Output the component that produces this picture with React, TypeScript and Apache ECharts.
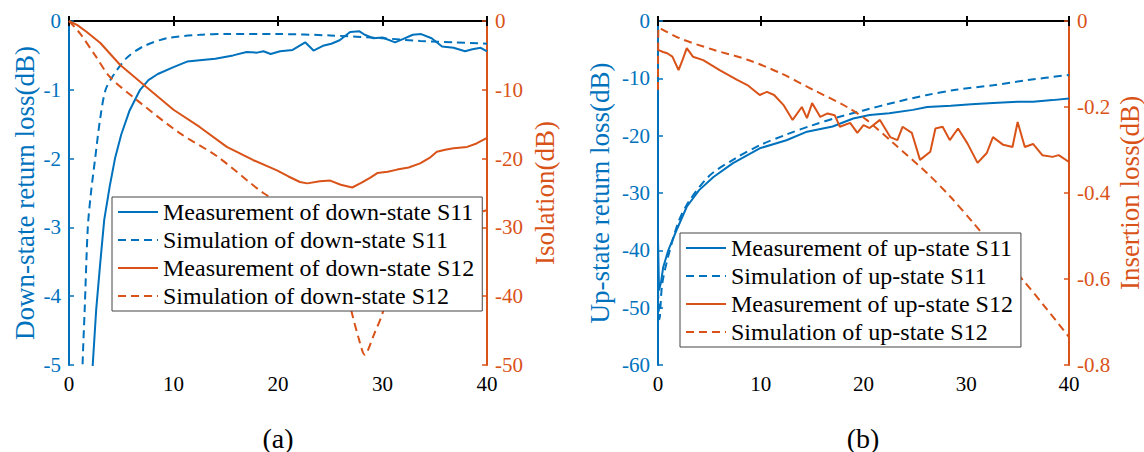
import React, { useEffect, useRef } from "react";
import * as echarts from "echarts";

const BLUE = "#0072BD";
const ORANGE = "#D95319";
const FONT = "'Liberation Serif', 'Times New Roman', serif";

const xTicks = [0, 10, 20, 30, 40];

// Panel (a): down-state
const aMeasS11F = [2.0, 2.27, 2.6, 3.0, 3.37, 3.9, 4.4, 5.0, 5.8, 6.8, 7.6, 8.5, 10, 11.3, 12.5, 14, 15.7, 17, 18, 18.6, 19.3, 20.2, 21.4, 22.6, 23.4, 24.3, 25.1, 25.9, 26.9, 27.8, 28.3, 29.1, 30, 31.2, 32, 32.9, 33.7, 34.7, 35.7, 36.8, 37.9, 38.6, 39.4, 40];
const aMeasS11V = [-6.2, -5, -4.2, -3.5, -2.89, -2.4, -2.0, -1.65, -1.3, -1.0, -0.86, -0.77, -0.67, -0.59, -0.57, -0.55, -0.5, -0.45, -0.46, -0.44, -0.48, -0.44, -0.42, -0.31, -0.43, -0.36, -0.33, -0.28, -0.16, -0.15, -0.2, -0.25, -0.24, -0.31, -0.26, -0.2, -0.19, -0.25, -0.37, -0.39, -0.44, -0.41, -0.39, -0.44];
const aSimS11F = [1.1, 1.3, 1.5, 1.8, 2.1, 2.5, 3.0, 3.5, 4.2, 5.5, 7.1, 9.4, 12.5, 15, 20, 25, 30, 33.6, 37, 40];
const aSimS11V = [-6.5, -5, -4.2, -3, -2.5, -2, -1.4, -1.0, -0.8, -0.54, -0.37, -0.25, -0.2, -0.19, -0.19, -0.21, -0.25, -0.29, -0.31, -0.33];
const aMeasS12F = [0, 0.8, 1.7, 3, 4.9, 7.4, 10, 12.5, 15.1, 17.6, 19.9, 21, 22.1, 22.8, 24, 25, 26, 27.1, 28, 28.8, 29.5, 30.5, 31.4, 32.5, 33.6, 34.5, 35.2, 36, 36.8, 38.1, 39, 40];
const aMeasS12V = [0, -0.6, -1.6, -3.2, -6.4, -9.6, -12.9, -15.4, -18.3, -20.2, -21.7, -22.6, -23.4, -23.6, -23.3, -23.2, -23.8, -24.2, -23.5, -22.8, -22.1, -21.9, -21.6, -21.3, -20.7, -19.9, -19, -18.7, -18.5, -18.3, -17.8, -17];
const aSimS12F = [0, 1.05, 2.5, 3.9, 6.5, 10.6, 14.2, 18.6, 21, 23, 25, 26.3, 27, 27.7, 28.3, 29.2, 30, 31, 32.5, 35, 37.5, 40];
const aSimS12V = [0, -1.8, -5, -8.1, -11.5, -16.3, -19.7, -25, -27, -29.5, -33, -37.5, -42, -46, -48.5, -45.5, -42.5, -37, -33, -30, -28.5, -27.5];

// Panel (b): up-state
const bMeasS11F = [0, 0.1, 0.3, 0.5, 1, 1.8, 2.8, 4, 5.4, 7.3, 9.9, 12.5, 14.5, 17, 19, 20.6, 22.5, 24.8, 26.2, 28.5, 30.5, 32.6, 35, 36.5, 38.4, 40];
const bMeasS11V = [-38, -47, -45.5, -43, -40, -36.5, -32.4, -29.5, -27.2, -24.8, -22.2, -20.8, -19.3, -18.4, -17, -16.4, -16.1, -15.5, -15, -14.8, -14.5, -14.3, -14.1, -14.1, -13.8, -13.5];
const bSimS11F = [0, 0.15, 0.4, 1, 2, 3, 5, 7.5, 10, 12.5, 15, 17.5, 20, 23, 26.2, 29, 32.6, 36, 40];
const bSimS11V = [-47, -52, -46, -41, -35, -31.5, -27, -24, -21.6, -19.8, -18.2, -16.8, -15.6, -14.2, -12.9, -12, -11.2, -10.3, -9.4];
const bMeasS12F = [0, 0.5, 0.9, 1.4, 2.0, 2.4, 2.8, 3.4, 4.4, 6, 7.7, 8.7, 9.9, 10.6, 11.3, 12.2, 13.1, 14, 14.5, 15, 15.8, 16.5, 17.2, 17.7, 18.7, 19.4, 20, 20.6, 21.6, 22.6, 23.3, 23.8, 24.7, 25.5, 26.5, 27, 27.7, 28.4, 29.2, 30.1, 31.1, 32, 32.6, 33.6, 34.5, 35, 35.7, 36.5, 37.4, 38.4, 39, 40];
const bMeasS12V = [-0.067, -0.072, -0.075, -0.083, -0.114, -0.09, -0.063, -0.083, -0.091, -0.114, -0.137, -0.149, -0.172, -0.165, -0.172, -0.195, -0.23, -0.2, -0.226, -0.191, -0.223, -0.215, -0.219, -0.246, -0.237, -0.26, -0.242, -0.249, -0.23, -0.27, -0.277, -0.246, -0.26, -0.323, -0.304, -0.25, -0.246, -0.277, -0.25, -0.284, -0.33, -0.307, -0.27, -0.288, -0.293, -0.235, -0.293, -0.286, -0.312, -0.316, -0.312, -0.328];
const bSimS12F = [0, 0.05, 2.1, 5.4, 8.7, 11.9, 15.1, 18.4, 20.3, 22.9, 26.2, 28.5, 30.7, 33, 35.5, 37.5, 40];
const bSimS12V = [-0.16, -0.015, -0.04, -0.067, -0.09, -0.121, -0.16, -0.2, -0.23, -0.284, -0.354, -0.41, -0.47, -0.535, -0.602, -0.66, -0.735];

const aNames = [
  "Measurement of down-state S11",
  "Simulation of down-state S11",
  "Measurement of down-state S12",
  "Simulation of down-state S12",
];
const bNames = [
  "Measurement of up-state S11",
  "Simulation of up-state S11",
  "Measurement of up-state S12",
  "Simulation of up-state S12",
];

const zip = (f: number[], v: number[]) => f.map((x, i) => [x, v[i]]);

function xAxes(gridIndex: number) {
  return [
    {
      type: "value", gridIndex, position: "bottom", min: xTicks[0], max: xTicks[xTicks.length - 1], interval: 10,
      axisLine: { lineStyle: { color: "#000", width: 2 } },
      axisTick: { inside: true, length: 5, lineStyle: { color: "#000", width: 2 } },
      axisLabel: { color: "#000", fontFamily: FONT, fontSize: 21, margin: 8 },
      splitLine: { show: false },
    },
    {
      type: "value", gridIndex, position: "top", min: xTicks[0], max: xTicks[xTicks.length - 1], interval: 10,
      axisLine: { lineStyle: { color: "#000", width: 2 } },
      axisTick: { inside: true, length: 5, lineStyle: { color: "#000", width: 2 } },
      axisLabel: { show: false },
      splitLine: { show: false },
    },
  ];
}

function yAxis(gridIndex: number, position: string, color: string, min: number, max: number, interval: number, name: string, nameGap: number, decimals = 0) {
  return {
    type: "value", gridIndex, position, min, max, interval, name, nameGap,
    nameLocation: "middle",
    nameTextStyle: { color, fontFamily: FONT, fontSize: 27 },
    axisLine: { show: true, onZero: false, lineStyle: { color, width: 2 } },
    axisTick: { show: true, inside: true, length: 5, lineStyle: { color, width: 1.5 } },
    axisLabel: {
      color, fontFamily: FONT, fontSize: 21, margin: 8,
      formatter: (v: number) => (decimals ? (v === 0 ? "0" : v.toFixed(decimals)) : String(v)),
    },
    splitLine: { show: false },
  };
}

function line(name: string, data: number[][], color: string, xAxisIndex: number, yAxisIndex: number, dashed: boolean) {
  return {
    type: "line", name, data, xAxisIndex, yAxisIndex,
    showSymbol: false, symbol: "none",
    smooth: dashed ? 0.3 : false,
    lineStyle: { color, width: 2, type: dashed ? [8, 5] : "solid" },
    itemStyle: { color },
    clip: true,
  };
}

function legend(names: string[], left: number, top: number) {
  return {
    data: names, orient: "vertical", left, top,
    itemWidth: 40, itemHeight: 14, itemGap: 0, itemTextGap: 3,
    padding: [1, 8, 1, 5],
    itemStyle: { opacity: 0 },
    backgroundColor: "#fff", borderColor: "#444", borderWidth: 1, borderRadius: 0,
    textStyle: { color: "#000", fontFamily: FONT, fontSize: 24, lineHeight: 28 },
    selectedMode: false,
  };
}

export default function App() {
  const ref = useRef<HTMLDivElement>(null);
  useEffect(() => {
    if (!ref.current) return;
    const chart = echarts.init(ref.current, null, { renderer: "svg" });
    chart.setOption({
      animation: false,
      backgroundColor: "#fff",
      grid: [
        { left: 69, top: 21, width: 418, height: 344 },
        { left: 658, top: 21, width: 411, height: 344 },
      ],
      xAxis: [...xAxes(0), ...xAxes(1)],
      yAxis: [
        yAxis(0, "left", BLUE, -5, 0, 1, "Down-state return loss(dB)", 31),
        yAxis(0, "right", ORANGE, -50, 0, 10, "Isolation(dB)", 44),
        yAxis(1, "left", BLUE, -60, 0, 10, "Up-state return loss(dB)", 45),
        yAxis(1, "right", ORANGE, -0.8, 0, 0.2, "Insertion loss(dB)", 47, 1),
      ],
      legend: [legend(aNames, 112, 197), legend(bNames, 680, 233)],
      series: [
        line(aNames[0], zip(aMeasS11F, aMeasS11V), BLUE, 0, 0, false),
        line(aNames[1], zip(aSimS11F, aSimS11V), BLUE, 0, 0, true),
        line(aNames[2], zip(aMeasS12F, aMeasS12V), ORANGE, 0, 1, false),
        line(aNames[3], zip(aSimS12F, aSimS12V), ORANGE, 0, 1, true),
        line(bNames[0], zip(bMeasS11F, bMeasS11V), BLUE, 2, 2, false),
        line(bNames[1], zip(bSimS11F, bSimS11V), BLUE, 2, 2, true),
        line(bNames[2], zip(bMeasS12F, bMeasS12V), ORANGE, 2, 3, false),
        line(bNames[3], zip(bSimS12F, bSimS12V), ORANGE, 2, 3, true),
      ],
      graphic: [
        { type: "text", x: 278, y: 438, style: { text: "(a)", fill: "#000", font: `28px ${FONT}`, textAlign: "center", textVerticalAlign: "middle" } },
        { type: "text", x: 863, y: 438, style: { text: "(b)", fill: "#000", font: `28px ${FONT}`, textAlign: "center", textVerticalAlign: "middle" } },
      ],
    });
    return () => chart.dispose();
  }, []);
  return <div ref={ref} style={{ position: "fixed", left: 0, top: 0, width: 1144, height: 452 }} />;
}
